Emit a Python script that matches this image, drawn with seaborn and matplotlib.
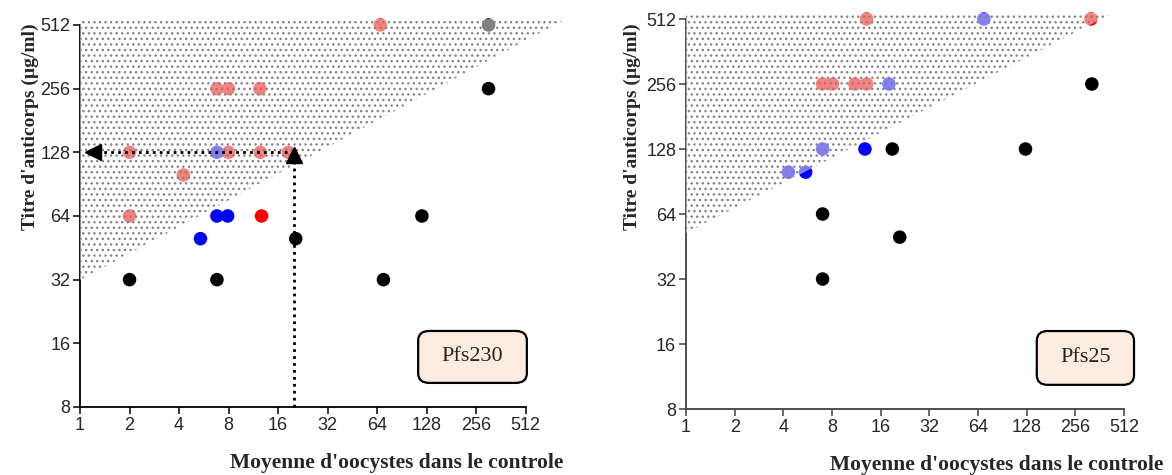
import matplotlib
matplotlib.use("Agg")
import matplotlib.pyplot as plt
import seaborn as sns
import pandas as pd
from matplotlib.patches import FancyBboxPatch

sns.set_theme(style="white")
plt.rcParams["font.family"] = ["Liberation Sans", "DejaVu Sans"]
plt.rcParams["hatch.linewidth"] = 1.0

# Données
ticks = [1, 2, 4, 8, 16, 32, 64, 128, 256, 512]
yticks = [8, 16, 32, 64, 128, 256, 512]

# Pfs230
pfs230_x = [2, 8, 12.5, 18.5, 4.25, 2, 12.7, 6.8, 8, 12.4, 67,
            6.8, 6.8, 7.9, 5.4,
            20.5, 2, 6.8, 70, 120, 305, 305]
pfs230_y = [128, 128, 128, 128, 100, 64, 64, 256, 256, 256, 512,
            128, 64, 64, 50,
            50, 32, 32, 32, 64, 256, 512]
pfs230_grp = ["rouge"] * 11 + ["bleu"] * 4 + ["noir"] * 7

# Pfs25
pfs25_x = [7, 8.06, 11.1, 13.1, 13.1, 320,
           18, 69.6, 4.3, 5.5, 7, 12.8,
           18.9, 126, 324, 7, 21, 7]
pfs25_y = [256, 256, 256, 256, 512, 512,
           256, 512, 100, 100, 128, 128,
           128, 128, 256, 64, 50, 32]
pfs25_grp = ["rouge"] * 6 + ["bleu"] * 6 + ["noir"] * 6

# zone hachurée (triangle)
shade230_x = [1, 1, 900]
shade230_y = [32, 548, 548]
shade25_x = [1, 1, 440]
shade25_y = [52, 545, 545]

# flèches du seuil (Pfs230)
seuil_x = 20
seuil_y = 128

palette = {"rouge": "#ff0000", "bleu": "#0000ff", "noir": "#000000"}

fig = plt.figure(figsize=(11.72, 4.75), dpi=100)
ax1 = fig.add_axes([0.0683, 0.1432, 0.3801, 0.8042])
ax2 = fig.add_axes([0.5853, 0.1389, 0.3737, 0.8211])


def panel(ax, xs, ys, grp, sx, sy, name, box, xlab_pos, ylab_pos, spine_col):
    df = pd.DataFrame({"x": xs, "y": ys, "g": grp})
    sns.scatterplot(data=df, x="x", y="y", hue="g", palette=palette, s=95,
                    linewidth=0, legend=False, ax=ax, zorder=2, clip_on=False)
    # voile blanc + pointillés gris par-dessus les points
    ax.fill(sx, sy, facecolor=(1, 1, 1, 0.5), edgecolor="#858585", hatch="...",
            linewidth=0, zorder=3, clip_on=False)
    ax.set_xscale("log", base=2)
    ax.set_yscale("log", base=2)
    ax.set_xlim(1, 512)
    ax.set_ylim(8, 512)
    ax.set_xticks(ticks)
    ax.set_xticklabels([str(t) for t in ticks])
    ax.set_yticks(yticks)
    ax.set_yticklabels([str(t) for t in yticks])
    ax.minorticks_off()
    ax.tick_params(direction="out", length=5, width=1.1, labelsize=13,
                   color=spine_col, pad=2, left=True, bottom=True)
    for s in ["top", "right"]:
        ax.spines[s].set_visible(False)
    for s in ["left", "bottom"]:
        ax.spines[s].set_color(spine_col)
        ax.spines[s].set_linewidth(1.3)
    ax.set_xlabel("Moyenne d'oocystes dans le controle", family="Liberation Serif",
                  fontweight="bold", fontsize=15.5, ha="right", va="center")
    ax.xaxis.set_label_coords(*xlab_pos)
    ax.set_ylabel("Titre d'anticorps (µg/ml)", family="Liberation Serif",
                  fontweight="bold", fontsize=14, va="center")
    ax.yaxis.set_label_coords(*ylab_pos)
    x0, y0, w, h = box
    ax.add_patch(FancyBboxPatch((x0, y0), w, h, boxstyle="round,pad=0,rounding_size=0.025",
                                transform=ax.transAxes, facecolor="#fcebdf",
                                edgecolor="black", linewidth=1.6, clip_on=False, zorder=4))
    ax.text(x0 + w / 2, y0 + h / 2, name, transform=ax.transAxes, ha="center",
            va="center", family="Liberation Serif", fontsize=16, zorder=5)


panel(ax1, pfs230_x, pfs230_y, pfs230_grp, shade230_x, shade230_y, "Pfs230",
      (0.759, 0.063, 0.244, 0.136), (1.084, -0.147), (-0.112, 0.735), "black")
panel(ax2, pfs25_x, pfs25_y, pfs25_grp, shade25_x, shade25_y, "Pfs25",
      (0.801, 0.062, 0.222, 0.138), (1.089, -0.144), (-0.123, 0.725), "#404040")

# flèches pointillées vers les axes
ax1.plot([seuil_x, 1.12], [seuil_y, seuil_y], ls=(0, (1, 1.5)), color="black", lw=2, zorder=4)
ax1.plot([seuil_x, seuil_x], [8, seuil_y * 0.93], ls=(0, (1, 1.5)), color="black", lw=2,
         zorder=4, clip_on=False)
ax1.plot(1.2, seuil_y, marker="<", color="black", ms=11, zorder=5, clip_on=False)
ax1.plot(seuil_x, seuil_y * 0.97, marker="^", color="black", ms=11, zorder=5)

fig.savefig("out.png", dpi=100)
